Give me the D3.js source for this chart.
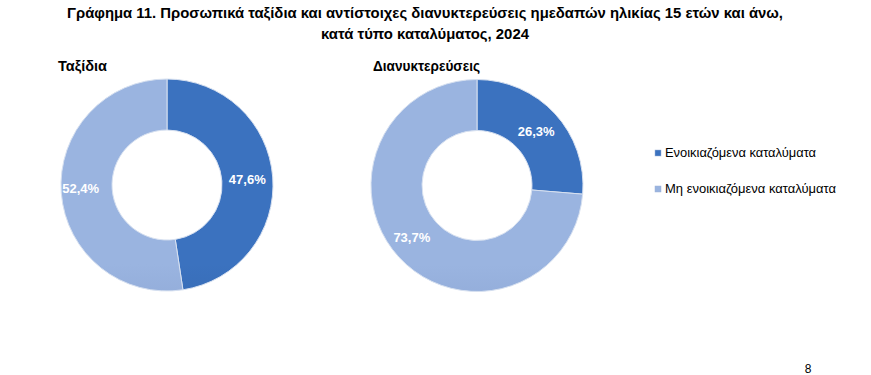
<!DOCTYPE html>
<html>
<head>
<meta charset="utf-8">
<script src="https://cdn.jsdelivr.net/npm/d3@7"></script>
<style>
  body { margin: 0; background: #fff; }
  svg { display: block; font-family: "Liberation Sans Narrow", "Liberation Sans", Arial, sans-serif; }
</style>
</head>
<body>
<div id="chart"></div>
<script>
const width = 871;
const height = 375;

// data
const titleLines = [
    "Γράφημα 11. Προσωπικά ταξίδια και αντίστοιχες διανυκτερεύσεις ημεδαπών ηλικίας 15 ετών και άνω,",
    "κατά τύπο καταλύματος, 2024"
];
const categories = ["Ενοικιαζόμενα καταλύματα", "Μη ενοικιαζόμενα καταλύματα"];
const charts = ["Ταξίδια", "Διανυκτερεύσεις"];
const tripsValues = [47.6, 52.4];
const nightsValues = [26.3, 73.7];
const pageNumber = "8";

const seriesValues = [tripsValues, nightsValues];

const svg = d3.select("#chart")
    .append("svg")
    .attr("width", width)
    .attr("height", height);

const defs = svg.append("defs");

const gradColors = [
    ["#3b72bf", "#2a5591"],
    ["#9ab4e0", "#7088bb"]
];

const centers = [{ x: 167, y: 185 }, { x: 477, y: 185.5 }];
const outerR = 106;
const innerR = 55;

// gradients per donut and category
centers.forEach((c, ci) => {
    gradColors.forEach((cols, k) => {
        const g = defs.append("linearGradient")
            .attr("id", `g${ci}_${k}`)
            .attr("gradientUnits", "userSpaceOnUse")
            .attr("x1", 0).attr("y1", c.y - outerR)
            .attr("x2", 0).attr("y2", c.y + outerR);
        g.append("stop").attr("offset", "0%").attr("stop-color", cols[0]);
        g.append("stop").attr("offset", "100%").attr("stop-color", cols[1]);
    });
});

// title
svg.selectAll(".title")
    .data(titleLines)
    .enter()
    .append("text")
    .attr("class", "title")
    .attr("x", 425)
    .attr("y", (d, i) => 18 + i * 21)
    .attr("text-anchor", "middle")
    .attr("textLength", (d, i) => i === 0 ? 716 : 208)
    .attr("lengthAdjust", "spacingAndGlyphs")
    .style("font-size", "15px")
    .style("font-weight", "bold")
    .style("fill", "#000")
    .text(d => d);

const pie = d3.pie().sort(null).value(d => d);
const arc = d3.arc().innerRadius(innerR).outerRadius(outerR);
const labelArc = d3.arc().innerRadius(innerR).outerRadius(outerR);

const fmt = v => v.toFixed(1).replace(".", ",") + "%";

charts.forEach((name, ci) => {
    const c = centers[ci];
    const g = svg.append("g")
        .attr("transform", `translate(${c.x},${c.y})`);

    svg.append("text")
        .attr("x", ci === 0 ? 58 : 373)
        .attr("y", 71)
        .attr("textLength", ci === 0 ? 49 : 107)
        .attr("lengthAdjust", "spacingAndGlyphs")
        .style("font-size", "15px")
        .style("font-weight", "bold")
        .style("fill", "#000")
        .text(name);

    const arcs = pie(seriesValues[ci]);

    g.selectAll("path")
        .data(arcs)
        .enter()
        .append("path")
        .attr("d", arc)
        .attr("fill", (d, i) => `url(#g${ci}_${i})`)
        .attr("stroke", "#d6e0f0")
        .attr("stroke-width", 1);

    g.selectAll(".lbl")
        .data(arcs)
        .enter()
        .append("text")
        .attr("class", "lbl")
        .attr("x", d => labelArc.centroid(d)[0] - (d.index === 1 ? 6 : 0))
        .attr("y", d => labelArc.centroid(d)[1] - (d.index === 1 ? 3 : 0))
        .attr("dy", "0.35em")
        .attr("text-anchor", "middle")
        .style("font-size", "13px")
        .style("font-weight", "bold")
        .style("fill", "#fff")
        .text(d => fmt(d.data));
});

// legend
const legend = svg.append("g")
    .attr("transform", "translate(655,153)");

categories.forEach((cat, i) => {
    const row = legend.append("g")
        .attr("transform", `translate(0,${i * 36})`);
    row.append("rect")
        .attr("x", 0)
        .attr("y", -3)
        .attr("width", 6)
        .attr("height", 6)
        .attr("fill", `url(#g0_${i})`)
        .attr("stroke", "#9fb3d6")
        .attr("stroke-width", 0.5);
    row.append("text")
        .attr("x", 10)
        .attr("y", 4)
        .attr("textLength", i === 0 ? 151 : 171)
        .attr("lengthAdjust", "spacingAndGlyphs")
        .style("font-size", "12.5px")
        .style("fill", "#000")
        .text(cat);
});

svg.append("text")
    .attr("x", 808)
    .attr("y", 373)
    .attr("text-anchor", "middle")
    .style("font-size", "12px")
    .style("fill", "#000")
    .text(pageNumber);
</script>
</body>
</html>
